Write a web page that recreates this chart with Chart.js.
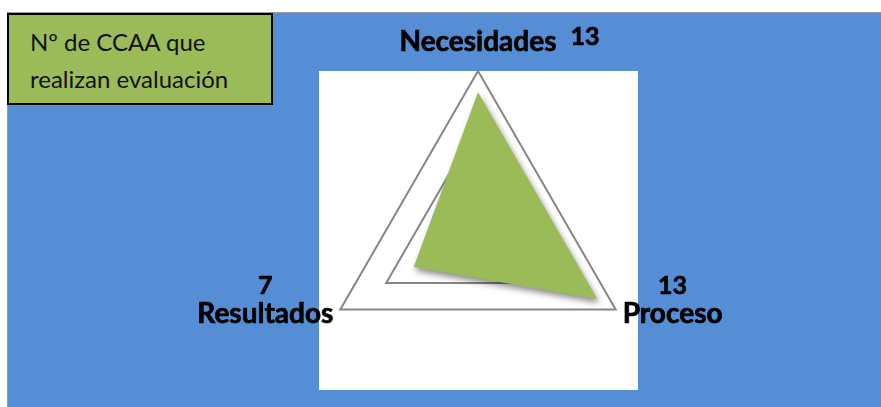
<!DOCTYPE html>
<html>
<head>
<meta charset="utf-8">
<script src="https://cdn.jsdelivr.net/npm/chart.js@4"></script>
<style>
    body { margin: 0; background: #ffffff; }
    #fondo {
        position: absolute; left: 7px; top: 12px; width: 874px; height: 395px;
        background: #558ED5; border-top: 1px solid #9a9a9a; border-left: 1px solid #9a9a9a;
        box-sizing: border-box;
    }
    #grafico { position: absolute; left: 0; top: 0; }
    #leyenda {
        position: absolute; left: 7px; top: 13px; width: 266px; height: 92px;
        box-sizing: border-box; background: #9BBB59; border: 2px solid #000;
        font-family: Lato, "Open Sans", sans-serif; font-size: 24px; color: #111;
        padding: 8px 0 0 21px; line-height: 37px;
    }
</style>
</head>
<body>
<div id="fondo"></div>
<canvas id="grafico" width="881" height="407"></canvas>
<div id="leyenda">Nº de CCAA que<br>realizan evaluación</div>

<script>
// Datos del gráfico
var categorias = ['Necesidades', 'Proceso', 'Resultados']
var valores = [13, 13, 7]
var maximoEscala = 15
var pasoEscala = 5

// fondo blanco del área del gráfico + sombra del área verde
const pluginFondo = {
    id: 'fondo',
    beforeDraw(chart) {
        const ctx = chart.ctx
        const area = chart.chartArea
        ctx.save()
        ctx.fillStyle = '#ffffff'
        ctx.fillRect(area.left, area.top, area.right - area.left, area.bottom - area.top)
        ctx.restore()
    },
    beforeDatasetsDraw(chart) {
        const ctx = chart.ctx
        ctx.save()
        ctx.shadowColor = 'rgba(0,0,0,0.45)'
        ctx.shadowBlur = 6
        ctx.shadowOffsetX = 2
        ctx.shadowOffsetY = 4
    },
    afterDatasetsDraw(chart) {
        chart.ctx.restore()
    }
}

// etiquetas de los ejes con su valor
const pluginEtiquetas = {
    id: 'etiquetas',
    afterDraw(chart) {
        const ctx = chart.ctx
        const escala = chart.scales.r
        const fuenteNombre = 'bold 28px Lato, "Open Sans", sans-serif'
        const fuenteValor = 'bold 25px Lato, "Open Sans", sans-serif'
        ctx.save()
        ctx.fillStyle = '#000000'
        ctx.strokeStyle = '#000000'
        ctx.lineWidth = 0.7
        ctx.textBaseline = 'alphabetic'
        for (var i = 0; i < categorias.length; i++) {
            var p = escala.getPointPosition(i, escala.drawingArea)
            ctx.font = fuenteNombre
            var ancho = ctx.measureText(categorias[i]).width
            if (i == 0) {
                ctx.textAlign = 'center'
                ctx.fillText(categorias[i], p.x, p.y - 20)
                ctx.strokeText(categorias[i], p.x, p.y - 20)
                ctx.font = fuenteValor
                ctx.textAlign = 'left'
                ctx.fillText(valores[i], p.x + ancho / 2 + 14, p.y - 26)
                ctx.strokeText(valores[i], p.x + ancho / 2 + 14, p.y - 26)
            } else {
                var x = i == 1 ? p.x + 7 + ancho / 2 : p.x - 7 - ancho / 2
                ctx.textAlign = 'center'
                ctx.fillText(categorias[i], x, p.y + 13)
                ctx.strokeText(categorias[i], x, p.y + 13)
                ctx.font = fuenteValor
                ctx.fillText(valores[i], x, p.y - 16)
                ctx.strokeText(valores[i], x, p.y - 16)
            }
        }
        ctx.restore()
    }
}

new Chart(document.getElementById('grafico'), {
    type: 'radar',
    data: {
        labels: categorias,
        datasets: [{
            label: 'Nº de CCAA que realizan evaluación',
            data: valores,
            backgroundColor: '#9BBB59',
            borderColor: '#9BBB59',
            borderWidth: 0,
            pointRadius: 0,
            fill: true
        }]
    },
    options: {
        responsive: false,
        animation: false,
        layout: {
            padding: { left: 319, top: 71, right: 243, bottom: 17 }
        },
        plugins: {
            legend: { display: false },
            tooltip: { enabled: false }
        },
        scales: {
            r: {
                min: 0,
                max: maximoEscala,
                ticks: { stepSize: pasoEscala, display: false },
                pointLabels: { display: false },
                angleLines: { display: false },
                grid: { color: '#868686', lineWidth: 2 }
            }
        }
    },
    plugins: [pluginFondo, pluginEtiquetas]
})
</script>
</body>
</html>
